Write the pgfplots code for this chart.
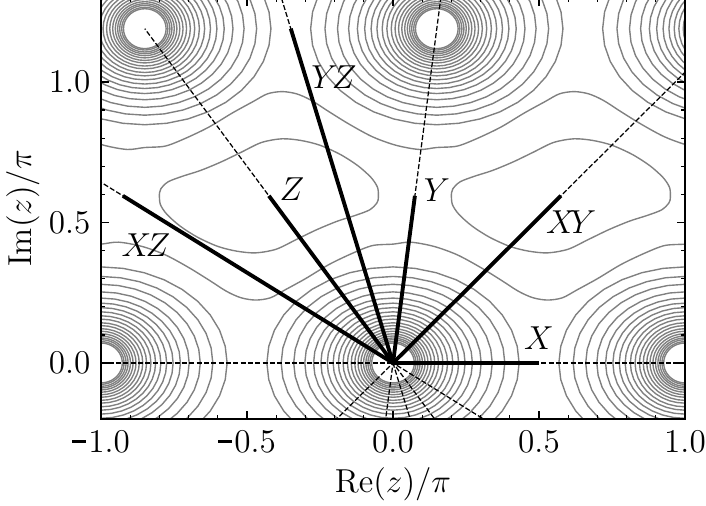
\documentclass[12pt,border=0pt]{standalone}
\usepackage{pgfplots}
\pgfplotsset{compat=1.18}
\usepackage{pgfplotstable}

% unit circle (shape of one contour ring; each ring is scaled to the semi-axes)
\pgfplotstableread{
x y
1 0
0.98481 0.17365
0.93969 0.34202
0.86603 0.5
0.76604 0.64279
0.64279 0.76604
0.5 0.86603
0.34202 0.93969
0.17365 0.98481
0 1
-0.17365 0.98481
-0.34202 0.93969
-0.5 0.86603
-0.64279 0.76604
-0.76604 0.64279
-0.86603 0.5
-0.93969 0.34202
-0.98481 0.17365
-1 0
-0.98481 -0.17365
-0.93969 -0.34202
-0.86603 -0.5
-0.76604 -0.64279
-0.64279 -0.76604
-0.5 -0.86603
-0.34202 -0.93969
-0.17365 -0.98481
0 -1
0.17365 -0.98481
0.34202 -0.93969
0.5 -0.86603
0.64279 -0.76604
0.76604 -0.64279
0.86603 -0.5
0.93969 -0.34202
0.98481 -0.17365
1 0
}\unitcircle

\tikzset{
  ring/.style={black!50, line width=0.5pt, no marks},
  dashline/.style={black, line width=0.45pt, dash pattern=on 1.85pt off 0.8pt, no marks},
  segline/.style={black, line width=1.4pt, no marks},
}

\newcommand\mmi{\rule[3.4pt]{5pt}{0.8pt}\hspace{0.9pt}}

% one ring: semi-axes #1 (x) and #2 (y), centre (#3,#4)
\newcommand\R[4]{\addplot[ring] table[x expr=\thisrow{x}*#1+(#3), y expr=\thisrow{y}*#2+(#4)] {\unitcircle};}
\newcommand\ringsat[2]{%
\R{0.432}{0.342}{#1}{#2}\R{0.383}{0.308}{#1}{#2}\R{0.340}{0.280}{#1}{#2}\R{0.302}{0.253}{#1}{#2}%
\R{0.272}{0.231}{#1}{#2}\R{0.247}{0.213}{#1}{#2}\R{0.225}{0.197}{#1}{#2}\R{0.205}{0.182}{#1}{#2}%
\R{0.187}{0.168}{#1}{#2}\R{0.171}{0.156}{#1}{#2}\R{0.156}{0.143}{#1}{#2}\R{0.143}{0.133}{#1}{#2}%
\R{0.131}{0.122}{#1}{#2}\R{0.120}{0.113}{#1}{#2}\R{0.110}{0.104}{#1}{#2}\R{0.101}{0.096}{#1}{#2}%
\R{0.093}{0.089}{#1}{#2}\R{0.086}{0.083}{#1}{#2}\R{0.079}{0.076}{#1}{#2}\R{0.073}{0.071}{#1}{#2}%
}

\begin{document}
\begin{tikzpicture}
\begin{axis}[
  name=ax,
  scale only axis, width=210.24bp, height=151.7bp,
  xmin=-1, xmax=1, ymin=-0.2, ymax=1.3,
  xtick={-1,-0.5,0,0.5,1}, ytick={0,0.5,1},
  xticklabels={{\mmi1.0},{\mmi0.5},{0.0},{0.5},{1.0}},
  yticklabels={{0.0},{0.5},{1.0}},
  minor tick num=4,
  tick align=inside,
  major tick length=3pt, minor tick length=1.5pt,
  xticklabel style={yshift=0.3bp},
  yticklabel style={xshift=0.4bp},
  xlabel={$\mathrm{Re}(z)/\pi$}, ylabel={$\mathrm{Im}(z)/\pi$},
  every axis x label/.style={at={(axis description cs:0.5,-0.155)}, anchor=center},
  every axis y label/.style={at={(axis description cs:-0.1337,0.5)}, anchor=center, rotate=90},
  axis line style={line width=0.7pt},
  every tick/.style={black, line width=0.5pt},
  axis on top,
]
% rings around the poles
\ringsat{-1}{0}
\ringsat{0}{0}
\ringsat{1}{0}
\ringsat{-0.85}{1.19}
\ringsat{0.15}{1.19}
\ringsat{1.15}{1.19}

% lower band contour
\addplot[ring, smooth] coordinates {
(-1.07,0.418) (-1.00,0.423) (-0.94,0.430) (-0.86,0.415) (-0.78,0.385) (-0.70,0.340) (-0.63,0.295)
(-0.57,0.255) (-0.52,0.232) (-0.47,0.224) (-0.42,0.232) (-0.37,0.260) (-0.30,0.300) (-0.22,0.350)
(-0.14,0.390) (-0.07,0.418) (0.00,0.423) (0.06,0.430) (0.14,0.415) (0.22,0.385) (0.30,0.340)
(0.37,0.295) (0.43,0.255) (0.48,0.232) (0.53,0.224) (0.58,0.232) (0.63,0.260) (0.70,0.300)
(0.78,0.350) (0.86,0.390) (0.93,0.418) (1.00,0.423) (1.06,0.430)
};
% upper band contour
\addplot[ring, smooth] coordinates {
(-1.07,0.805) (-0.99,0.775) (-0.91,0.760) (-0.85,0.767) (-0.78,0.772) (-0.71,0.800) (-0.63,0.840)
(-0.55,0.890) (-0.48,0.930) (-0.43,0.958) (-0.38,0.966) (-0.33,0.958) (-0.28,0.935) (-0.22,0.895)
(-0.15,0.850) (-0.07,0.805) (0.01,0.775) (0.09,0.760) (0.15,0.767) (0.22,0.772) (0.29,0.800)
(0.37,0.840) (0.45,0.890) (0.52,0.930) (0.57,0.958) (0.62,0.966) (0.67,0.958) (0.72,0.935)
(0.78,0.895) (0.85,0.850) (0.93,0.805) (1.01,0.775) (1.09,0.760)
};
% closed contour round XY
\addplot[ring, smooth] coordinates {
(0.200,0.600) (0.203,0.565) (0.225,0.530) (0.270,0.488) (0.330,0.448) (0.400,0.415) (0.465,0.398)
(0.530,0.392) (0.600,0.405) (0.670,0.440) (0.740,0.475) (0.810,0.505) (0.870,0.525) (0.920,0.545)
(0.945,0.570) (0.950,0.590) (0.947,0.625) (0.925,0.660) (0.880,0.702) (0.820,0.742) (0.750,0.775)
(0.685,0.792) (0.620,0.798) (0.550,0.785) (0.480,0.750) (0.410,0.715) (0.340,0.685) (0.280,0.665)
(0.230,0.645) (0.205,0.620) (0.200,0.600)
};
% closed contour round Z
\addplot[ring, smooth] coordinates {
(-0.800,0.600) (-0.797,0.565) (-0.775,0.530) (-0.730,0.488) (-0.670,0.448) (-0.600,0.415) (-0.535,0.398)
(-0.470,0.392) (-0.400,0.405) (-0.330,0.440) (-0.260,0.475) (-0.190,0.505) (-0.130,0.525) (-0.080,0.545)
(-0.055,0.570) (-0.050,0.590) (-0.053,0.625) (-0.075,0.660) (-0.120,0.702) (-0.180,0.742) (-0.250,0.775)
(-0.315,0.792) (-0.380,0.798) (-0.450,0.785) (-0.520,0.750) (-0.590,0.715) (-0.660,0.685) (-0.720,0.665)
(-0.770,0.645) (-0.795,0.620) (-0.800,0.600)
};

% dashed rays through the origin
\addplot[dashline] coordinates {(-1.2,0) (1.2,0)};
\addplot[dashline] coordinates {(-0.05,-0.397) (0.2,1.587)};
\addplot[dashline] coordinates {(-0.575,-0.595) (1.15,1.19)};
\addplot[dashline] coordinates {(0.425,-0.595) (-0.85,1.19)};
\addplot[dashline] coordinates {(0.925,-0.595) (-1.85,1.19)};
\addplot[dashline] coordinates {(0.35,-1.19) (-0.7,2.38)};

% solid segments
\addplot[segline] coordinates {(0,0) (0.5,0)};
\addplot[segline] coordinates {(0,0) (0.075,0.595)};
\addplot[segline] coordinates {(0,0) (0.575,0.595)};
\addplot[segline] coordinates {(0,0) (-0.425,0.595)};
\addplot[segline] coordinates {(0,0) (-0.925,0.595)};
\addplot[segline] coordinates {(0,0) (-0.35,1.19)};

\node at (axis cs:0.50,0.09) {$X$};
\node at (axis cs:0.150,0.616) {$Y$};
\node at (axis cs:-0.346,0.62) {$Z$};
\node at (axis cs:0.61,0.50) {$X\mkern-3mu Y$};
\node at (axis cs:-0.846,0.42) {$X\mkern-3mu Z$};
\node at (axis cs:-0.202,1.018) {$Y\mkern-3mu Z$};
\end{axis}
\pgfresetboundingbox
\path (ax.south west) ++(-36.36bp,-31.25bp) rectangle ++(254.16bp,182.15bp);
\end{tikzpicture}
\end{document}
